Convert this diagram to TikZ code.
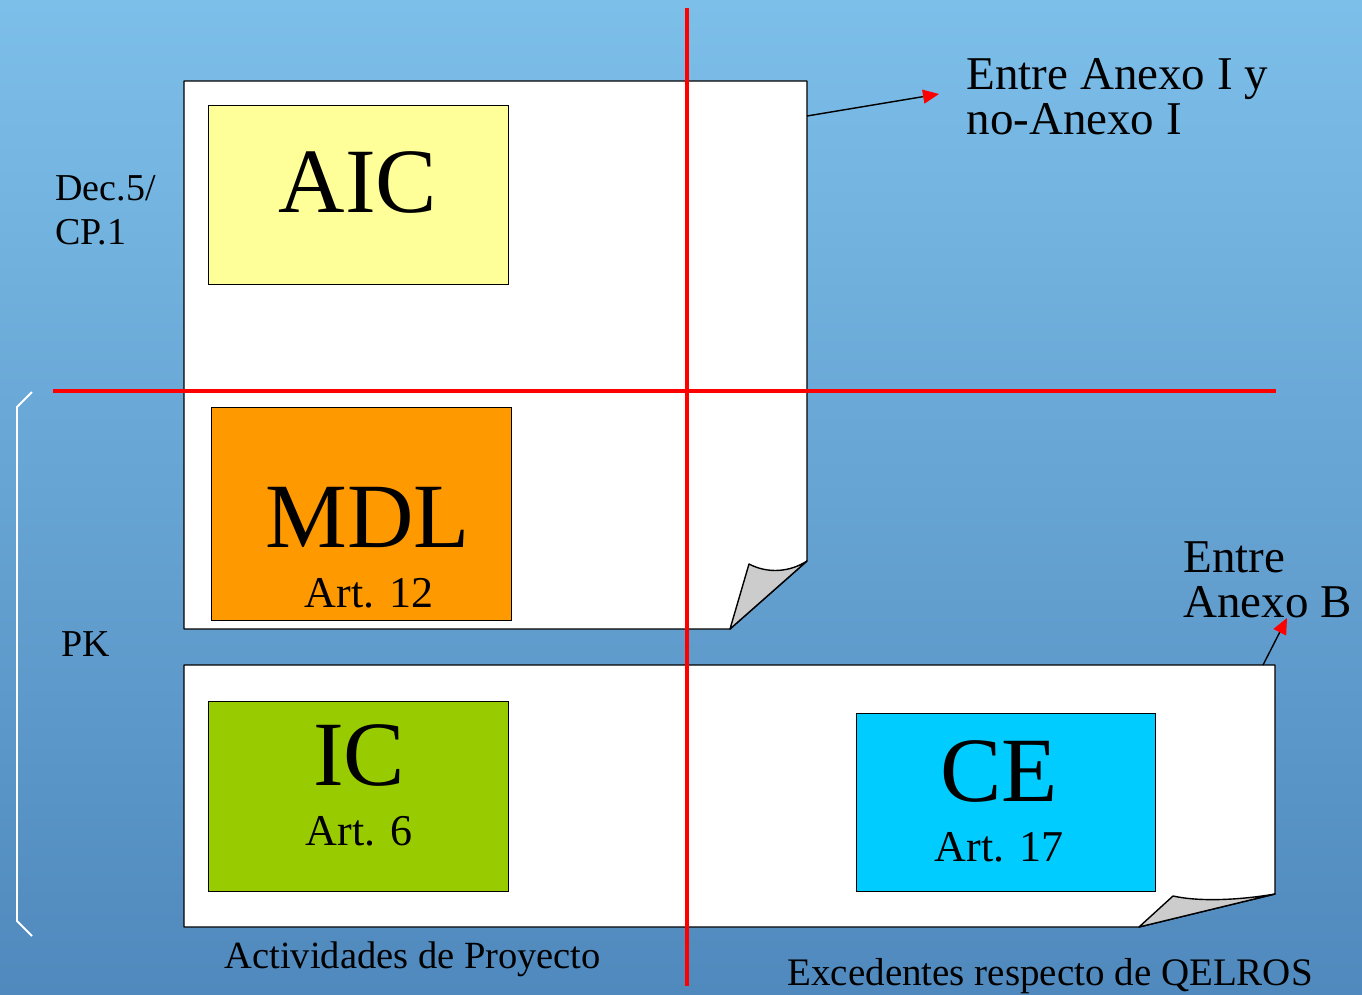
\documentclass[tikz,border=0pt]{standalone}
\usepackage{fontspec}
\setmainfont{Liberation Serif}
\usetikzlibrary{arrows.meta}

\definecolor{skytop}{RGB}{124,191,233}
\definecolor{skybot}{RGB}{80,137,189}
\definecolor{aicfill}{RGB}{255,255,153}
\definecolor{mdlfill}{RGB}{255,153,0}
\definecolor{icfill}{RGB}{153,204,0}
\definecolor{cefill}{RGB}{0,204,255}

\begin{document}
\begin{tikzpicture}[x=1pt,y=-1pt,
  >={Triangle[length=16pt,width=14pt,color=red]},
  page/.style={draw=black,fill=white,line width=1.4pt,line join=round},
  fold/.style={draw=black,fill=black!20,line width=1.4pt,line join=round},
  mech/.style={draw=black,line width=1.2pt,inner sep=0pt,anchor=north west},
  cut/.style={red,line width=3.5pt},
  huge/.style={font=\fontsize{92}{92}\selectfont,anchor=base},
  sub/.style={font=\fontsize{44}{44}\selectfont,anchor=base},
  note/.style={font=\fontsize{47}{45}\selectfont,align=left,anchor=base west},
  small/.style={font=\fontsize{38}{44}\selectfont,align=left,anchor=base west}]

\useasboundingbox (0,0) rectangle (1362,995);
\shade[top color=skytop,bottom color=skybot] (0,0) rectangle (1362,995);

% upper page with curled corner
\draw[page] (184,81) -- (807,81) -- (807,561) -- (730,629) -- (184,629) -- cycle;
\draw[fold] (730,629) -- (749,564) .. controls (768,574) and (790,572) .. (807,561) -- cycle;
\coordinate (topedge) at (807,116);

% lower page
\draw[page] (184,665) -- (1275,665) -- (1275,894) -- (1139,927) -- (184,927) -- cycle;
\draw[fold] (1139,927) -- (1173,896) .. controls (1200,902) and (1240,900) .. (1275,894) -- cycle;
\coordinate (lowedge) at (1263,665);

% mechanism boxes
\node[mech,fill=aicfill,minimum width=300pt,minimum height=179pt] (aic) at (208,105) {};
\node[mech,fill=mdlfill,minimum width=300pt,minimum height=213pt] (mdl) at (211,407) {};
\node[mech,fill=icfill,minimum width=300pt,minimum height=190pt] (ic) at (208,701) {};
\node[mech,fill=cefill,minimum width=299pt,minimum height=178pt] (ce) at (856,713) {};

\node[huge] (aictxt) at (358,212) {AIC};
\node[huge] (mdltxt) at (368,547) {MDL};
\node[sub] (mdlart) at (369,607) {Art. 12};
\node[huge] (ictxt) at (359,785) {IC};
\node[sub] (icart) at (359,845) {Art. 6};
\node[huge] (cetxt) at (999,801) {CE};
\node[sub] (ceart) at (999,861) {Art. 17};

% dividing lines
\draw[cut] (53,391) -- (1276,391);
\draw[cut] (687,8) -- (687,986);

% pointers to the group labels
\node[note] (anexo) at (963,135) {Entre Anexo I y\\no-Anexo I};
\node[note] (anexob) at (1180,617) {Entre\\Anexo B};
\coordinate (tipA) at (939,94);
\coordinate (tipB) at (1287,618);
\draw[->,line width=1.4pt] (topedge) -- (tipA);
\draw[->,line width=1.4pt] (lowedge) -- (tipB);

% bracket for PK
\draw[white,line width=1.8pt] (32,392) -- (17,407) -- (17,921) -- (32,936);

\node[small] (dec) at (52,244) {Dec.5/\\CP.1};
\node[small] (pk) at (58,656) {PK};
\node[small,font=\fontsize{38.5}{44}\selectfont] (act) at (221,968) {Actividades de Proyecto};
\node[small,font=\fontsize{39}{44}\selectfont] (exc) at (784,985) {Excedentes respecto de QELROS};

\end{tikzpicture}
\end{document}
